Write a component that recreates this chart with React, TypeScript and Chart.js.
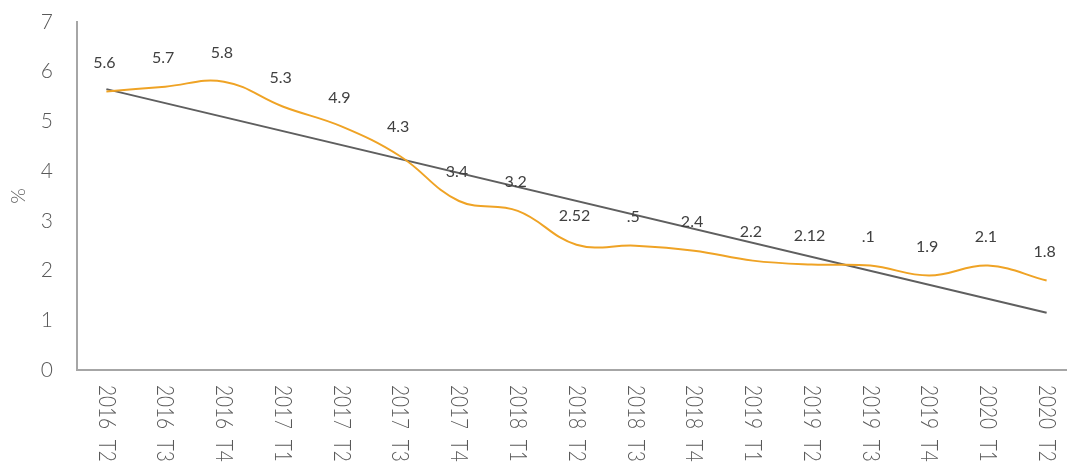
import React, { useEffect, useRef } from "react";
import { Chart, registerables } from "chart.js";

Chart.register(...registerables);

const categories = [
  "2016 T2", "2016 T3", "2016 T4", "2017 T1", "2017 T2", "2017 T3", "2017 T4",
  "2018 T1", "2018 T2", "2018 T3", "2018 T4", "2019 T1", "2019 T2", "2019 T3",
  "2019 T4", "2020 T1", "2020 T2",
];
const rateValues = [5.6, 5.7, 5.8, 5.3, 4.9, 4.3, 3.4, 3.2, 2.52, 2.5, 2.4, 2.2, 2.12, 2.1, 1.9, 2.1, 1.8];
const valueLabels = ["5.6", "5.7", "5.8", "5.3", "4.9", "4.3", "3.4", "3.2", "2.52", ".5", "2.4", "2.2", "2.12", ".1", "1.9", "2.1", "1.8"];
const trendStart = 5.65;
const trendEnd = 1.15;
const yMin = 0;
const yMax = 7;
const yStep = 1;

const FONT = "Lato, 'DejaVu Sans', sans-serif";

const labelPlugin = {
  id: "customLabels",
  afterDatasetsDraw(chart: any) {
    const ctx = chart.ctx;
    const meta = chart.getDatasetMeta(0);
    ctx.save();
    ctx.font = `400 16px ${FONT}`;
    ctx.fillStyle = "#404040";
    ctx.textAlign = "center";
    ctx.textBaseline = "middle";
    meta.data.forEach((pt: any, i: number) => {
      ctx.fillText(valueLabels[i], pt.x - 2, pt.y - 29);
    });
    ctx.restore();
  },
  afterDraw(chart: any) {
    const ctx = chart.ctx;
    const xs = chart.scales.x;
    ctx.save();
    ctx.font = `300 24px ${FONT}`;
    ctx.fillStyle = "#595959";
    ctx.textAlign = "left";
    ctx.textBaseline = "middle";
    try { (ctx as any).wordSpacing = "7px"; } catch (e) {}
    categories.forEach((c, i) => {
      const x = xs.getPixelForTick(i);
      ctx.save();
      ctx.translate(x, xs.top + 15);
      ctx.rotate(Math.PI / 2);
      ctx.scale(0.79, 1);
      ctx.fillText(c, 0, 0);
      ctx.restore();
    });
    ctx.restore();
  },
};

export default function App() {
  const ref = useRef<HTMLCanvasElement | null>(null);
  useEffect(() => {
    if (!ref.current) return;
    const trend = categories.map((_, i) => (i === 0 ? trendStart : i === categories.length - 1 ? trendEnd : null));
    const chart = new Chart(ref.current, {
      type: "line",
      data: {
        labels: categories,
        datasets: [
          {
            data: rateValues,
            borderColor: "#EFA325",
            borderWidth: 2,
            tension: 0.4,
            pointRadius: 0,
            fill: false,
          },
          {
            data: trend as any,
            borderColor: "#5f5f5f",
            borderWidth: 2,
            tension: 0,
            pointRadius: 0,
            spanGaps: true,
            fill: false,
          },
        ],
      },
      options: {
        responsive: false,
        animation: false,
        layout: { padding: { top: 22, right: 14, bottom: 0, left: 0 } },
        plugins: { legend: { display: false }, tooltip: { enabled: false }, title: { display: false } },
        scales: {
          x: {
            type: "category",
            offset: true,
            grid: { display: false, drawTicks: false },
            border: { display: true, color: "#a6a6a6", width: 2 },
            ticks: { display: false },
            afterFit(scale: any) {
              scale.height = 96;
              scale.paddingLeft = 0;
              scale.paddingRight = 0;
            },
          },
          y: {
            min: yMin,
            max: yMax,
            grid: { display: false, drawTicks: false },
            border: { display: true, color: "#a6a6a6", width: 2 },
            ticks: {
              stepSize: yStep,
              padding: 24,
              color: "#595959",
              font: { family: FONT, size: 21, weight: "300" as any },
            },
            title: {
              display: true,
              text: "%",
              color: "#595959",
              font: { family: FONT, size: 20, weight: "300" as any },
              padding: { top: 7, bottom: 4 },
            },
            afterFit(scale: any) {
              scale.width = 77;
              scale.paddingTop = 0;
              scale.paddingBottom = 0;
            },
          },
        },
      },
      plugins: [labelPlugin],
    });
    return () => chart.destroy();
  }, []);
  return (
    <div style={{ position: "fixed", left: 0, top: 0, width: 1067, height: 466, overflow: "hidden", background: "#fff" }}>
      <canvas ref={ref} width={1090} height={466} style={{ display: "block" }} />
    </div>
  );
}
